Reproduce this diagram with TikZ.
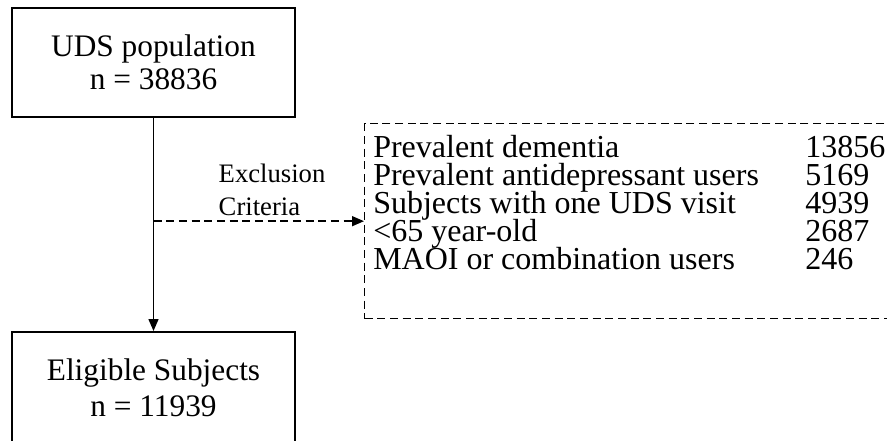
\documentclass[tikz,border=0pt]{standalone}
\usepackage{fontspec}
\setmainfont{Liberation Serif}
\usetikzlibrary{arrows.meta,positioning}
\tikzset{
  stagebox/.style={
    draw,
    line width=1.2pt,
    minimum width=212.25pt,
    minimum height=81.75pt,
    align=center,
    font=\fontsize{23.5}{25}\selectfont
  },
  exclbox/.style={
    draw,
    line width=1pt,
    dash pattern=on 6pt off 3.5pt,
    minimum width=402pt,
    minimum height=146.25pt
  },
  listtext/.style={
    inner sep=0pt,
    anchor=base west,
    font=\fontsize{24}{28}\selectfont
  },
  note/.style={
    align=left,
    inner sep=1pt,
    font=\fontsize{20}{25}\selectfont
  },
  flow/.style={-{Triangle[length=9pt,width=7.5pt]},line width=1.1pt},
  dflow/.style={flow,dash pattern=on 6pt off 3.5pt}
}

\begin{document}
\begin{tikzpicture}[x=0.75pt,y=-0.75pt]
\useasboundingbox (0,0) rectangle (887,440);
\clip (0,0) rectangle (887,440);

% Cajas de la población
\node[stagebox] (udspop) at (153.5,62.5) {UDS population\\n = 38836};
\node[stagebox, minimum height=84pt, anchor=north,
  font=\fontsize{23.5}{27.5}\selectfont]
  (eligible) at (153.5,331) {Eligible Subjects\\n = 11939};

% Criterios de exclusión (el borde derecho queda fuera)
\node[exclbox, anchor=north west] (excl) at (364,123) {};
\foreach \crit/\num [count=\i] in {Prevalent dementia/13856,
    Prevalent antidepressant users/5169,
    Subjects with one UDS visit/4939,
    <65 year-old/2687,
    MAOI or combination users/246} {
  \node[listtext] (crit\i) at (373,129.7+28*\i) {\crit};
  \node[listtext] (num\i) at (805,129.7+28*\i) {\num};
}

% Flujo
\draw[flow] (udspop) -- (eligible);
\coordinate (split) at (udspop.south |- excl.west);
\draw[dflow] (split) -- (excl.west)
  node[note, pos=0.3, anchor=south west, yshift=2.5pt] (exclnote) {Exclusion\\Criteria};

\end{tikzpicture}
\end{document}
